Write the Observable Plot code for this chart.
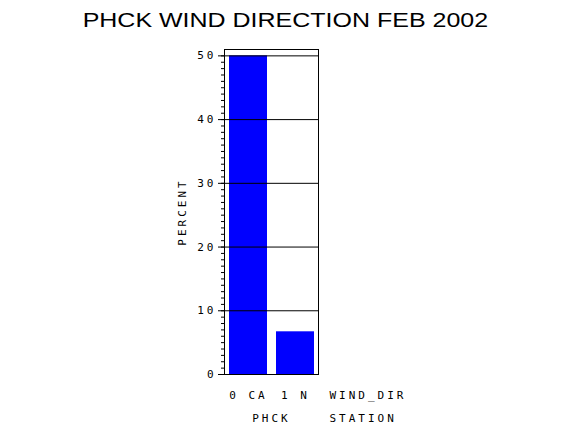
<!DOCTYPE html>
<html>
<head>
<meta charset="utf-8">
<script src="https://cdn.jsdelivr.net/npm/d3@7"></script>
<script src="https://cdn.jsdelivr.net/npm/@observablehq/plot@0.6"></script>
<style>
  html, body { margin: 0; padding: 0; background: #fff; }
  #wrap { position: relative; width: 570px; height: 430px; overflow: hidden; }
  #title { position: absolute; left: 0; top: 9px; width: 570px; text-align: center;
           font-family: "Liberation Sans", Arial, sans-serif; font-size: 21px; line-height: 21px; color: #000; }
  #title span { display: inline-block; transform: scaleX(1.19); transform-origin: center; }
  #chart { position: absolute; left: 0; top: 40px; }
</style>
</head>
<body>
<div id="wrap">
  <div id="title"><span>PHCK WIND DIRECTION FEB 2002</span></div>
  <div id="chart"></div>
</div>
<script>
const directions = ["0 CA", "1 N"];
const percents = [50, 6.7];
const majorTicks = [0, 10, 20, 30, 40, 50];
const gridTicks = [10, 20, 30, 40, 50];
const minorTicks = d3.range(0, 51, 1);
const yLabel = ["PERCENT"];
const groupVarLabel = ["WIND_DIR"];
const stationLabel = ["PHCK"];
const stationVarLabel = ["STATION"];

const data = directions.map((d, i) => ({dir: d, pct: percents[i]}));

const chart = Plot.plot({
  width: 570,
  height: 390,
  marginLeft: 224,
  marginRight: 252,
  marginTop: 9,
  marginBottom: 56,
  style: {fontFamily: "'DejaVu Sans Mono', monospace", fontSize: "11px", letterSpacing: "3px", color: "#000", background: "#fff"},
  x: {domain: directions, paddingInner: 0.195, paddingOuter: 0.08, axis: null, label: null},
  y: {domain: [0, 51], axis: null, label: null},
  marks: [
    Plot.barY(data, {x: "dir", y: "pct", fill: "#0000ff"}),
    Plot.gridY(gridTicks, {stroke: "#000", strokeOpacity: 1, strokeWidth: 1}),
    Plot.axisY({ticks: minorTicks, tickSize: 3, text: null, stroke: "#000", label: null}),
    Plot.axisY({ticks: majorTicks, tickSize: 6, tickPadding: 2, stroke: "#000", fill: "#000", tickFormat: d => String(d), label: null}),
    Plot.axisX({tickSize: 0, tickPadding: 17, fill: "#000", label: null}),
    Plot.frame({stroke: "#000", strokeWidth: 1}),
    Plot.text(yLabel, {text: d => d, frameAnchor: "left", textAnchor: "middle", rotate: -90, dx: -42, fill: "#000", lineAnchor: "middle"}),
    Plot.text(groupVarLabel, {text: d => d, frameAnchor: "bottom-right", textAnchor: "start", dx: 11, dy: 21, lineAnchor: "middle", fill: "#000"}),
    Plot.text(stationLabel, {text: d => d, frameAnchor: "bottom", textAnchor: "middle", dy: 44, lineAnchor: "middle", fill: "#000"}),
    Plot.text(stationVarLabel, {text: d => d, frameAnchor: "bottom-right", textAnchor: "start", dx: 11, dy: 44, lineAnchor: "middle", fill: "#000"})
  ]
});
document.getElementById("chart").appendChild(chart);
</script>
</body>
</html>
